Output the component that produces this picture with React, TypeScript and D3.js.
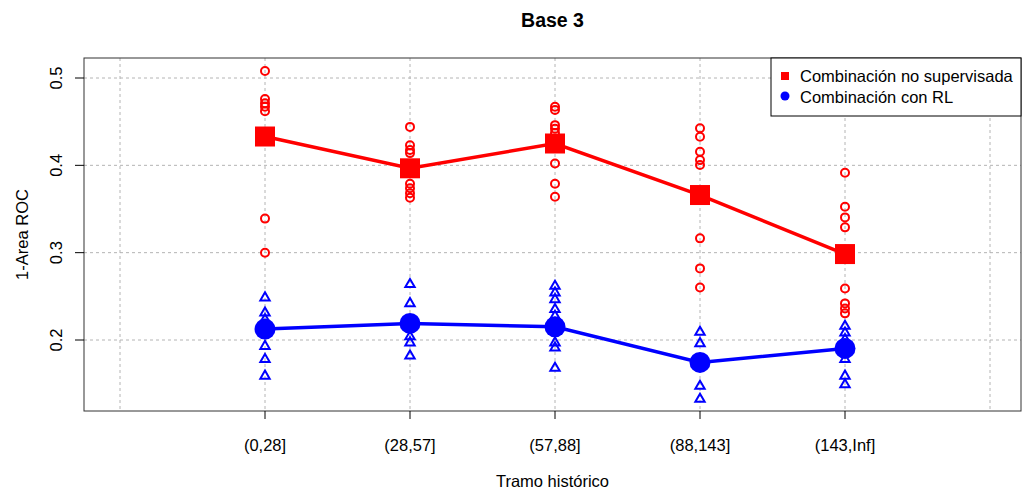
import React from "react";
import * as d3 from "d3";

const categories = ["(0,28]", "(28,57]", "(57,88]", "(88,143]", "(143,Inf]"];

// individual results per tramo, unsupervised combination
const redPoints: number[][] = [
  [0.508, 0.476, 0.471, 0.467, 0.462, 0.339, 0.300],
  [0.444, 0.423, 0.4175, 0.414, 0.379, 0.3737, 0.368, 0.363],
  [0.467, 0.4635, 0.446, 0.442, 0.437, 0.402, 0.379, 0.364],
  [0.4424, 0.4328, 0.4156, 0.406, 0.4003, 0.3164, 0.282, 0.2602],
  [0.3916, 0.3526, 0.3404, 0.329, 0.259, 0.2419, 0.236, 0.2305],
];
// individual results per tramo, logistic regression combination
const bluePoints: number[][] = [
  [0.2495, 0.2323, 0.2247, 0.194, 0.179, 0.160],
  [0.2648, 0.243, 0.205, 0.198, 0.183],
  [0.2629, 0.2552, 0.2476, 0.2362, 0.2285, 0.198, 0.1922, 0.169],
  [0.2102, 0.1972, 0.1483, 0.1334],
  [0.217, 0.2094, 0.2018, 0.179, 0.160, 0.150],
];
const redMeans = [0.433, 0.3966, 0.425, 0.366, 0.2984];
const blueMeans = [0.2125, 0.219, 0.2151, 0.1743, 0.1904];

const yTicks = [0.2, 0.3, 0.4, 0.5];
const xGrid = [0, 1, 2, 3, 4, 5, 6];
const legendLabels = ["Combinación no supervisada", "Combinación con RL"];

const RED = "#ff0000";
const BLUE = "#0000ff";
const FONT = "'Liberation Sans', Arial, sans-serif";
const FS = 16.5;

export default function App() {
  const W = 1025;
  const H = 493;
  const left = 84;
  const right = 1021;
  const top = 58;
  const bottom = 411;

  const x = d3.scaleLinear().domain([0, 6]).range([120, 990]);
  const y = d3.scaleLinear().domain([0.2, 0.5]).range([340, 78]);

  const line = d3
    .line<number>()
    .x((_, i) => x(i + 1))
    .y((d) => y(d));

  const tri = d3.symbol().type(d3.symbolTriangle).size(38)();

  return (
    <svg
      width={W}
      height={H}
      style={{ position: "absolute", left: 0, top: 0, background: "#fff" }}
      fontFamily={FONT}
    >
      {/* grid */}
      <g stroke="#b4b4b4" strokeWidth={1} strokeDasharray="3,3">
        {yTicks.map((t) => (
          <line key={"h" + t} x1={left} x2={right} y1={y(t)} y2={y(t)} />
        ))}
        {xGrid.map((t) => (
          <line key={"v" + t} x1={x(t)} x2={x(t)} y1={top} y2={bottom} />
        ))}
      </g>

      {/* raw points */}
      {redPoints.map((vals, i) =>
        vals.map((v, j) => (
          <circle
            key={`r${i}-${j}`}
            cx={x(i + 1)}
            cy={y(v)}
            r={4}
            fill="none"
            stroke={RED}
            strokeWidth={2}
          />
        ))
      )}
      {bluePoints.map((vals, i) =>
        vals.map((v, j) => (
          <path
            key={`b${i}-${j}`}
            d={tri!}
            transform={`translate(${x(i + 1)},${y(v) + 1})`}
            fill="none"
            stroke={BLUE}
            strokeWidth={2}
          />
        ))
      )}

      {/* mean lines */}
      <path d={line(redMeans)!} fill="none" stroke={RED} strokeWidth={3.5} />
      <path d={line(blueMeans)!} fill="none" stroke={BLUE} strokeWidth={3.5} />
      {redMeans.map((v, i) => (
        <rect key={"rm" + i} x={x(i + 1) - 10} y={y(v) - 10} width={20} height={20} fill={RED} />
      ))}
      {blueMeans.map((v, i) => (
        <circle key={"bm" + i} cx={x(i + 1)} cy={y(v)} r={10.5} fill={BLUE} />
      ))}

      {/* box */}
      <rect x={left} y={top} width={right - left} height={bottom - top} fill="none" stroke="#333" strokeWidth={1} />

      {/* y axis */}
      {yTicks.map((t) => (
        <g key={"yt" + t}>
          <line x1={left - 9} x2={left} y1={y(t)} y2={y(t)} stroke="#000" />
          <text
            transform={`translate(${62},${y(t)}) rotate(-90)`}
            textAnchor="middle"
            fontSize={FS}
            fill="#000"
          >
            {t.toFixed(1)}
          </text>
        </g>
      ))}
      <text transform={`translate(28,${(top + bottom) / 2}) rotate(-90)`} textAnchor="middle" fontSize={FS}>
        1-Area ROC
      </text>

      {/* x axis */}
      {categories.map((c, i) => (
        <g key={c}>
          <line x1={x(i + 1)} x2={x(i + 1)} y1={bottom} y2={bottom + 8} stroke="#000" />
          <text x={x(i + 1)} y={451} textAnchor="middle" fontSize={FS}>
            {c}
          </text>
        </g>
      ))}
      <text x={(left + right) / 2} y={487} textAnchor="middle" fontSize={FS}>
        Tramo histórico
      </text>

      {/* title */}
      <text x={(left + right) / 2} y={27} textAnchor="middle" fontSize={19.5} fontWeight="bold">
        Base 3
      </text>

      {/* legend */}
      <g>
        <rect x={771} y={top} width={right - 771} height={58} fill="#fff" stroke="#000" strokeWidth={1} />
        <rect x={781} y={72} width={8} height={8} fill={RED} />
        <circle cx={785} cy={96} r={4.5} fill={BLUE} />
        <text x={800} y={82} fontSize={FS}>
          {legendLabels[0]}
        </text>
        <text x={800} y={103} fontSize={FS}>
          {legendLabels[1]}
        </text>
      </g>
    </svg>
  );
}
